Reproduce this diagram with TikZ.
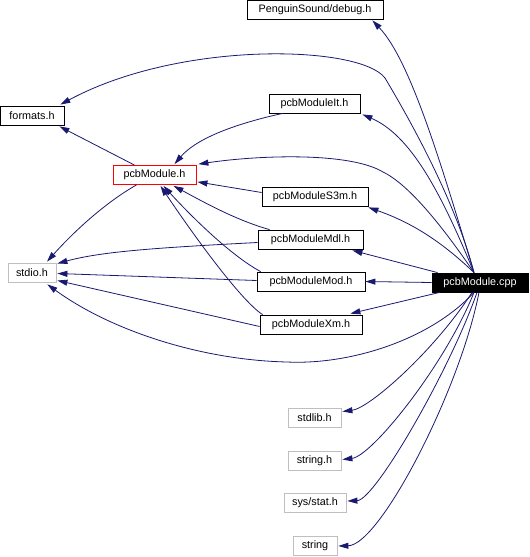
\documentclass[tikz,border=0pt]{standalone}
\usepackage{fontspec}
\setmainfont{Liberation Sans}
\usepackage{xcolor}
\usepackage{tikz}
\usetikzlibrary{arrows.meta,calc}
\definecolor{depblue}{RGB}{25,25,112}
\definecolor{sysgray}{RGB}{191,191,191}
\definecolor{curred}{RGB}{255,0,0}

\tikzset{
  hdr/.style={draw=black, fill=white, line width=0.8pt, minimum height=19pt, inner sep=0pt, font=\fontsize{10.8}{12}\selectfont},
  syshdr/.style={hdr, draw=sysgray},
  curhdr/.style={hdr, draw=curred},
  srchdr/.style={hdr, fill=black, text=white},
  dep/.style={-{Triangle[length=10pt,width=6pt]}, draw=depblue, line width=0.8pt}
}

\begin{document}
\begin{tikzpicture}[x=1pt,y=-1pt]
    \useasboundingbox (0,0) rectangle (530,557);

    % Headers
    \node[hdr, minimum width=136pt] (debug) at (315,9.5) {PenguinSound/debug.h};
    \node[hdr, minimum width=64pt] (formats) at (32,115.5) {formats.h};
    \node[curhdr, minimum width=83pt] (pcbh) at (154.5,175) {pcbModule.h};
    \node[hdr, minimum width=91pt] (it) at (314.5,103.5) {pcbModuleIt.h};
    \node[hdr, minimum width=106pt] (s3m) at (315,196.5) {pcbModuleS3m.h};
    \node[hdr, minimum width=105pt] (mdl) at (310.5,239.5) {pcbModuleMdl.h};
    \node[hdr, minimum width=108pt] (mod) at (311,281.5) {pcbModuleMod.h};
    \node[hdr, minimum width=102pt] (xm) at (311,324.5) {pcbModuleXm.h};
    \node[syshdr, minimum width=48pt] (stdio) at (32,272.5) {stdio.h};
    \node[srchdr, minimum width=96pt] (cpp) at (480,282.5) {pcbModule.cpp};

    % System headers
    \node[syshdr, minimum width=53pt] (stdlib) at (314.5,417.5) {stdlib.h};
    \node[syshdr, minimum width=53pt] (stringh) at (314.5,460.5) {string.h};
    \node[syshdr, minimum width=62pt] (sysstat) at (315,503) {sys/stat.h};
    \node[syshdr, minimum width=44pt] (string) at (315,546) {string};

    % Edges from pcbModule.cpp
    \draw[dep] ($(cpp.north)+(-6,0)$) .. controls (440,160) and (410,60) .. ($(debug.south east)+(-11,1)$);
    \draw[dep] ($(cpp.north)+(-6,0)$) .. controls (455,200) and (410,120) .. (385,78)
        .. controls (360,45) and (180,40) .. ($(formats.north east)+(-4,-1)$);
    \draw[dep] ($(cpp.north)+(-6,0)$) .. controls (440,190) and (410,135) .. ($(it.south east)+(2,1)$);
    \draw[dep] ($(cpp.north)+(-6,0)$) .. controls (445,230) and (410,185) .. (383,172)
        .. controls (350,152) and (260,155) .. ($(pcbh.north east)+(2,-1)$);
    \draw[dep] ($(cpp.north)+(-6,0)$) .. controls (440,240) and (410,222) .. ($(s3m.south east)+(0,1)$);
    \draw[dep] ($(cpp.north west)+(6,0)$) -- ($(mdl.south east)+(-11,1)$);
    \draw[dep] (cpp.west) -- (mod.east);
    \draw[dep] ($(cpp.south west)+(8,0)$) -- ($(xm.north east)+(-12,-1)$);
    \draw[dep] ($(cpp.south)+(-6,0)$) .. controls (430,340) and (350,365) .. (287,362)
        .. controls (200,360) and (110,330) .. ($(stdio.south east)+(-9,2)$);
    \draw[dep] ($(cpp.south)+(-8,0)$) .. controls (435,350) and (370,408) .. ($(stdlib.east)+(1,-6)$);
    \draw[dep] ($(cpp.south)+(-6,0)$) .. controls (445,365) and (372,456) .. ($(stringh.east)+(1,-1)$);
    \draw[dep] ($(cpp.south)+(-3,0)$) .. controls (450,370) and (375,500) .. ($(sysstat.east)+(1,-2)$);
    \draw[dep] ($(cpp.south)+(-1,0)$) .. controls (460,390) and (380,545) .. ($(string.east)+(1,0)$);

    % Edges from pcbModule.h
    \draw[dep] ($(pcbh.north)+(-20,0)$) -- ($(formats.south east)+(-5,1)$);
    \draw[dep] ($(pcbh.south)+(-18,0)$) .. controls (110,200) and (80,225) .. ($(stdio.north)+(15,-1)$);

    % Edges from the module headers
    \draw[dep] ($(it.south west)+(14,0)$) .. controls (230,125) and (195,140) .. ($(pcbh.north)+(20,-1)$);
    \draw[dep] ($(s3m.west)+(0,-4)$) -- ($(pcbh.south east)+(1,-3)$);
    \draw[dep] ($(mdl.north west)+(12,0)$) .. controls (235,220) and (200,200) .. ($(pcbh.south)+(19,1)$);
    \draw[dep] ($(mod.north west)+(4,0)$) .. controls (230,255) and (190,215) .. ($(pcbh.south)+(9,1)$);
    \draw[dep] ($(xm.north west)+(3,0)$) .. controls (240,300) and (190,230) .. ($(pcbh.south)+(6,1)$);
    \draw[dep] ($(mdl.west)+(0,3)$) .. controls (150,248) and (100,252) .. ($(stdio.east)+(1,-9)$);
    \draw[dep] ($(mod.west)+(0,-1)$) -- ($(stdio.east)+(1,1)$);
    \draw[dep] ($(xm.west)+(0,2)$) -- ($(stdio.east)+(1,8)$);
\end{tikzpicture}
\end{document}
